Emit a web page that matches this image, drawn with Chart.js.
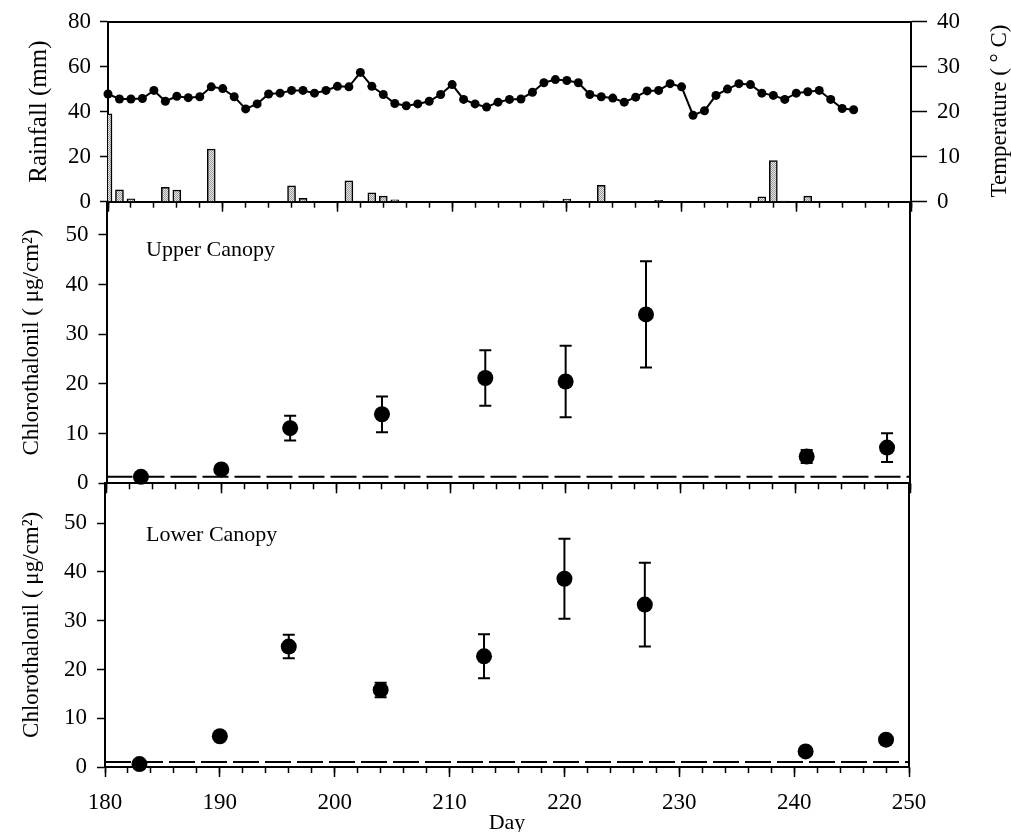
<!DOCTYPE html>
<html>
<head>
<meta charset="utf-8">
<script src="https://cdn.jsdelivr.net/npm/chart.js@4"></script>
<style>
  html, body { margin: 0; padding: 0; background: #fff; }
  #wrap { position: relative; width: 1011px; height: 832px; }
  .panel { position: absolute; left: 0; width: 1011px; }
</style>
</head>
<body>
<div id="wrap">
  <div class="panel" style="top:0;height:215px"><canvas id="climate"></canvas></div>
  <div class="panel" style="top:190px;height:305px"><canvas id="upper"></canvas></div>
  <div class="panel" style="top:470px;height:362px"><canvas id="lower"></canvas></div>
</div>
<script>
// daily weather
const tempDays = [180,181,182,183,184,185,186,187,188,189,190,191,192,193,194,195,196,197,198,199,
  200,201,202,203,204,205,206,207,208,209,210,211,212,213,214,215,216,217,218,219,
  220,221,222,223,224,225,226,227,228,229,230,231,232,233,234,235,236,237,238,239,
  240,241,242,243,244,245];
const tempC = [23.9,22.8,22.8,22.9,24.7,22.3,23.4,23.1,23.3,25.5,25.1,23.3,20.6,21.7,23.9,24.1,24.7,24.7,24.1,24.7,
  25.6,25.5,28.7,25.6,23.8,21.8,21.3,21.7,22.3,23.8,26.0,22.7,21.7,21.0,22.1,22.7,22.8,24.3,26.4,27.1,
  26.9,26.4,23.8,23.3,23.0,22.1,23.2,24.6,24.7,26.2,25.5,19.2,20.2,23.6,25.0,26.2,26.0,24.1,23.6,22.7,
  24.1,24.4,24.7,22.7,20.7,20.4];
const rainDays = [180,181,182,185,186,189,196,197,201,202,203,204,205,218,220,223,228,237,238,239,241];
const rainMm = [39,5.3,1.3,6.4,5.2,23.4,7.0,1.5,9.3,0.3,3.9,2.5,0.8,0.4,1.2,7.3,0.6,2.2,18.2,0.3,2.5];

// chlorothalonil residues
const sampleDays = [183,190,196,204,213,220,227,241,248];
const upperMean = [1.3,2.8,11.1,13.9,21.2,20.5,34.0,5.4,7.2];
const upperErr = [0,0,2.5,3.6,5.6,7.2,10.7,1.3,2.9];
const lowerMean = [0.6,6.3,24.7,15.8,22.7,38.6,33.3,3.2,5.6];
const lowerErr = [0,0,2.4,1.5,4.5,8.2,8.6,0,0];
const upperLimit = 1.3;
const lowerLimit = 1.0;

const FONT = 'Liberation Serif';
Chart.defaults.font.family = FONT;
Chart.defaults.font.size = 23;
Chart.defaults.color = '#000';
Chart.defaults.animation = false;

function stipple() {
  const c = document.createElement('canvas');
  c.width = 2; c.height = 2;
  const g = c.getContext('2d');
  g.fillStyle = '#e6e6e6'; g.fillRect(0, 0, 2, 2);
  g.fillStyle = '#9a9a9a'; g.fillRect(0, 0, 1, 1); g.fillRect(1, 1, 1, 1);
  return g.createPattern(c, 'repeat');
}

// keep the plot areas where the layout padding puts them
function noPad(s) {
  s.paddingTop = 0; s.paddingBottom = 0; s.paddingLeft = 0; s.paddingRight = 0;
}

// error bars drawn under the markers
const errorBars = {
  id: 'errorBars',
  beforeDatasetsDraw(chart) {
    const ctx = chart.ctx;
    const xs = chart.scales.x, ys = chart.scales.y;
    chart.data.datasets.forEach(ds => {
      if (!ds.errors) return;
      ctx.save();
      ctx.strokeStyle = '#000';
      ctx.lineWidth = 2;
      ds.data.forEach((p, j) => {
        const e = ds.errors[j];
        if (!e) return;
        const px = xs.getPixelForValue(p.x);
        const top = ys.getPixelForValue(p.y + e);
        const bot = ys.getPixelForValue(p.y - e);
        ctx.beginPath();
        ctx.moveTo(px, top); ctx.lineTo(px, bot);
        ctx.moveTo(px - 6, top); ctx.lineTo(px + 6, top);
        ctx.moveTo(px - 6, bot); ctx.lineTo(px + 6, bot);
        ctx.stroke();
      });
      ctx.restore();
    });
  }
};

const panelText = {
  id: 'panelText',
  afterDraw(chart, args, opts) {
    if (!opts.items) return;
    const ctx = chart.ctx;
    opts.items.forEach(it => {
      ctx.save();
      ctx.font = (it.size || 22) + 'px ' + FONT;
      ctx.fillStyle = '#000';
      ctx.textBaseline = 'middle';
      ctx.textAlign = it.align || 'left';
      ctx.translate(it.x, it.y);
      if (it.rotate) ctx.rotate(it.rotate);
      ctx.fillText(it.text, 0, 0);
      ctx.restore();
    });
  }
};

function dayAxes(labelHeight, withLabels) {
  return {
    x: {
      type: 'linear', position: 'bottom', min: 180, max: 250, offset: false, weight: 0,
      ticks: { display: false, stepSize: 2, autoSkip: false },
      grid: { drawOnChartArea: false, tickLength: 6, tickWidth: 1.5, color: '#000', offset: false },
      border: { display: true, width: 2, color: '#000' },
      afterFit: s => { s.height = 0; noPad(s); }
    },
    xMajor: {
      type: 'linear', position: 'bottom', min: 180, max: 250, offset: false, weight: 1,
      ticks: { display: withLabels, stepSize: 10, autoSkip: false, padding: 12, maxRotation: 0 },
      grid: { drawOnChartArea: false, tickLength: 10, tickWidth: 1.5, color: '#000', offset: false },
      border: { display: false },
      title: withLabels
        ? { display: true, text: 'Day', font: { size: 22, lineHeight: 0.8 }, padding: 0 }
        : { display: false },
      afterFit: s => { s.height = labelHeight; noPad(s); }
    }
  };
}

function canopyChart(id, mean, err, limit, yMax, label, labelY, pad, leftW, rightW, labelHeight, withLabels) {
  const scales = dayAxes(labelHeight, withLabels);
  scales.y = {
    position: 'left', min: 0, max: yMax,
    ticks: { stepSize: 10, padding: 10 },
    afterBuildTicks: s => { s.ticks = s.ticks.filter(t => t.value % 10 === 0); },
    grid: { drawOnChartArea: false, tickLength: 8, tickWidth: 1.5, color: '#000' },
    border: { width: 2, color: '#000' },
    title: { display: true, text: 'Chlorothalonil ( μg/cm²)', padding: { top: 18 } },
    afterFit: s => { s.width = leftW; noPad(s); }
  };
  scales.yFrame = {
    position: 'right', min: 0, max: 1, display: true,
    ticks: { display: false }, grid: { display: false },
    border: { display: true, width: 2, color: '#000' },
    afterFit: s => { s.width = rightW; noPad(s); }
  };
  return new Chart(document.getElementById(id), {
    type: 'line',
    data: {
      datasets: [
        {
          data: sampleDays.map((d, i) => ({ x: d, y: mean[i] })),
          errors: err,
          showLine: false,
          pointRadius: 8,
          pointBackgroundColor: '#000',
          pointBorderWidth: 0,
          clip: false
        },
        {
          data: [{ x: 180, y: limit }, { x: 250, y: limit }],
          borderColor: '#000',
          borderWidth: 2,
          borderDash: [26, 6],
          pointRadius: 0
        }
      ]
    },
    options: {
      responsive: true,
      maintainAspectRatio: false,
      layout: { padding: pad },
      plugins: {
        legend: { display: false },
        tooltip: { enabled: false },
        panelText: { items: [{ text: label, x: 146, y: labelY }] }
      },
      scales: scales
    },
    plugins: [errorBars, panelText]
  });
}

// top panel: rainfall bars and temperature
const topScales = dayAxes(0, false);
topScales.xTop = {
  type: 'linear', position: 'top', min: 180, max: 250, offset: false,
  ticks: { display: false }, grid: { display: false },
  border: { display: true, width: 2, color: '#000' },
  afterFit: s => { s.height = 0; noPad(s); }
};
topScales.y = {
  position: 'left', min: 0, max: 80,
  ticks: { stepSize: 20, padding: 9 },
  grid: { drawOnChartArea: false, tickLength: 8, tickWidth: 1.5, color: '#000' },
  border: { width: 2, color: '#000' },
  title: { display: true, text: 'Rainfall (mm)', font: { size: 25 }, padding: { top: 24 } },
  afterFit: s => { s.width = 108; noPad(s); }
};
topScales.y2 = {
  position: 'right', min: 0, max: 40,
  ticks: { stepSize: 10, padding: 10 },
  grid: { drawOnChartArea: false, tickLength: 16, tickWidth: 1.5, color: '#000' },
  border: { width: 2, color: '#000' },
  afterFit: s => { s.width = 100; noPad(s); }
};

new Chart(document.getElementById('climate'), {
  type: 'line',
  data: {
    datasets: [
      {
        type: 'line',
        data: tempDays.map((d, i) => ({ x: d, y: tempC[i] })),
        yAxisID: 'y2',
        borderColor: '#000',
        borderWidth: 2,
        pointRadius: 4.5,
        pointBackgroundColor: '#000',
        pointBorderWidth: 0,
        tension: 0,
        clip: false,
        order: 0
      },
      {
        type: 'bar',
        data: rainDays.map((d, i) => ({ x: d, y: rainMm[i] })),
        yAxisID: 'y',
        backgroundColor: stipple(),
        borderColor: '#000',
        borderWidth: 1.5,
        barThickness: 8,
        grouped: false,
        order: 1
      }
    ]
  },
  options: {
    responsive: true,
    maintainAspectRatio: false,
    layout: { padding: { top: 21.5, bottom: 13.3, left: 0, right: 0 } },
    plugins: {
      legend: { display: false },
      tooltip: { enabled: false },
      panelText: { items: [{ text: 'Temperature ( ° C)', size: 23, x: 1000, y: 111, align: 'center', rotate: -Math.PI / 2 }] }
    },
    scales: topScales
  },
  plugins: [panelText]
});

canopyChart('upper', upperMean, upperErr, upperLimit, 56.7, 'Upper Canopy', 60,
  { top: 11.7, bottom: 11.7, left: 0, right: 0 }, 106.5, 101, 0, false);
canopyChart('lower', lowerMean, lowerErr, lowerLimit, 58.3, 'Lower Canopy', 65,
  { top: 12.7, bottom: 0, left: 0, right: 0 }, 105, 102, 65, true);
</script>
</body>
</html>
